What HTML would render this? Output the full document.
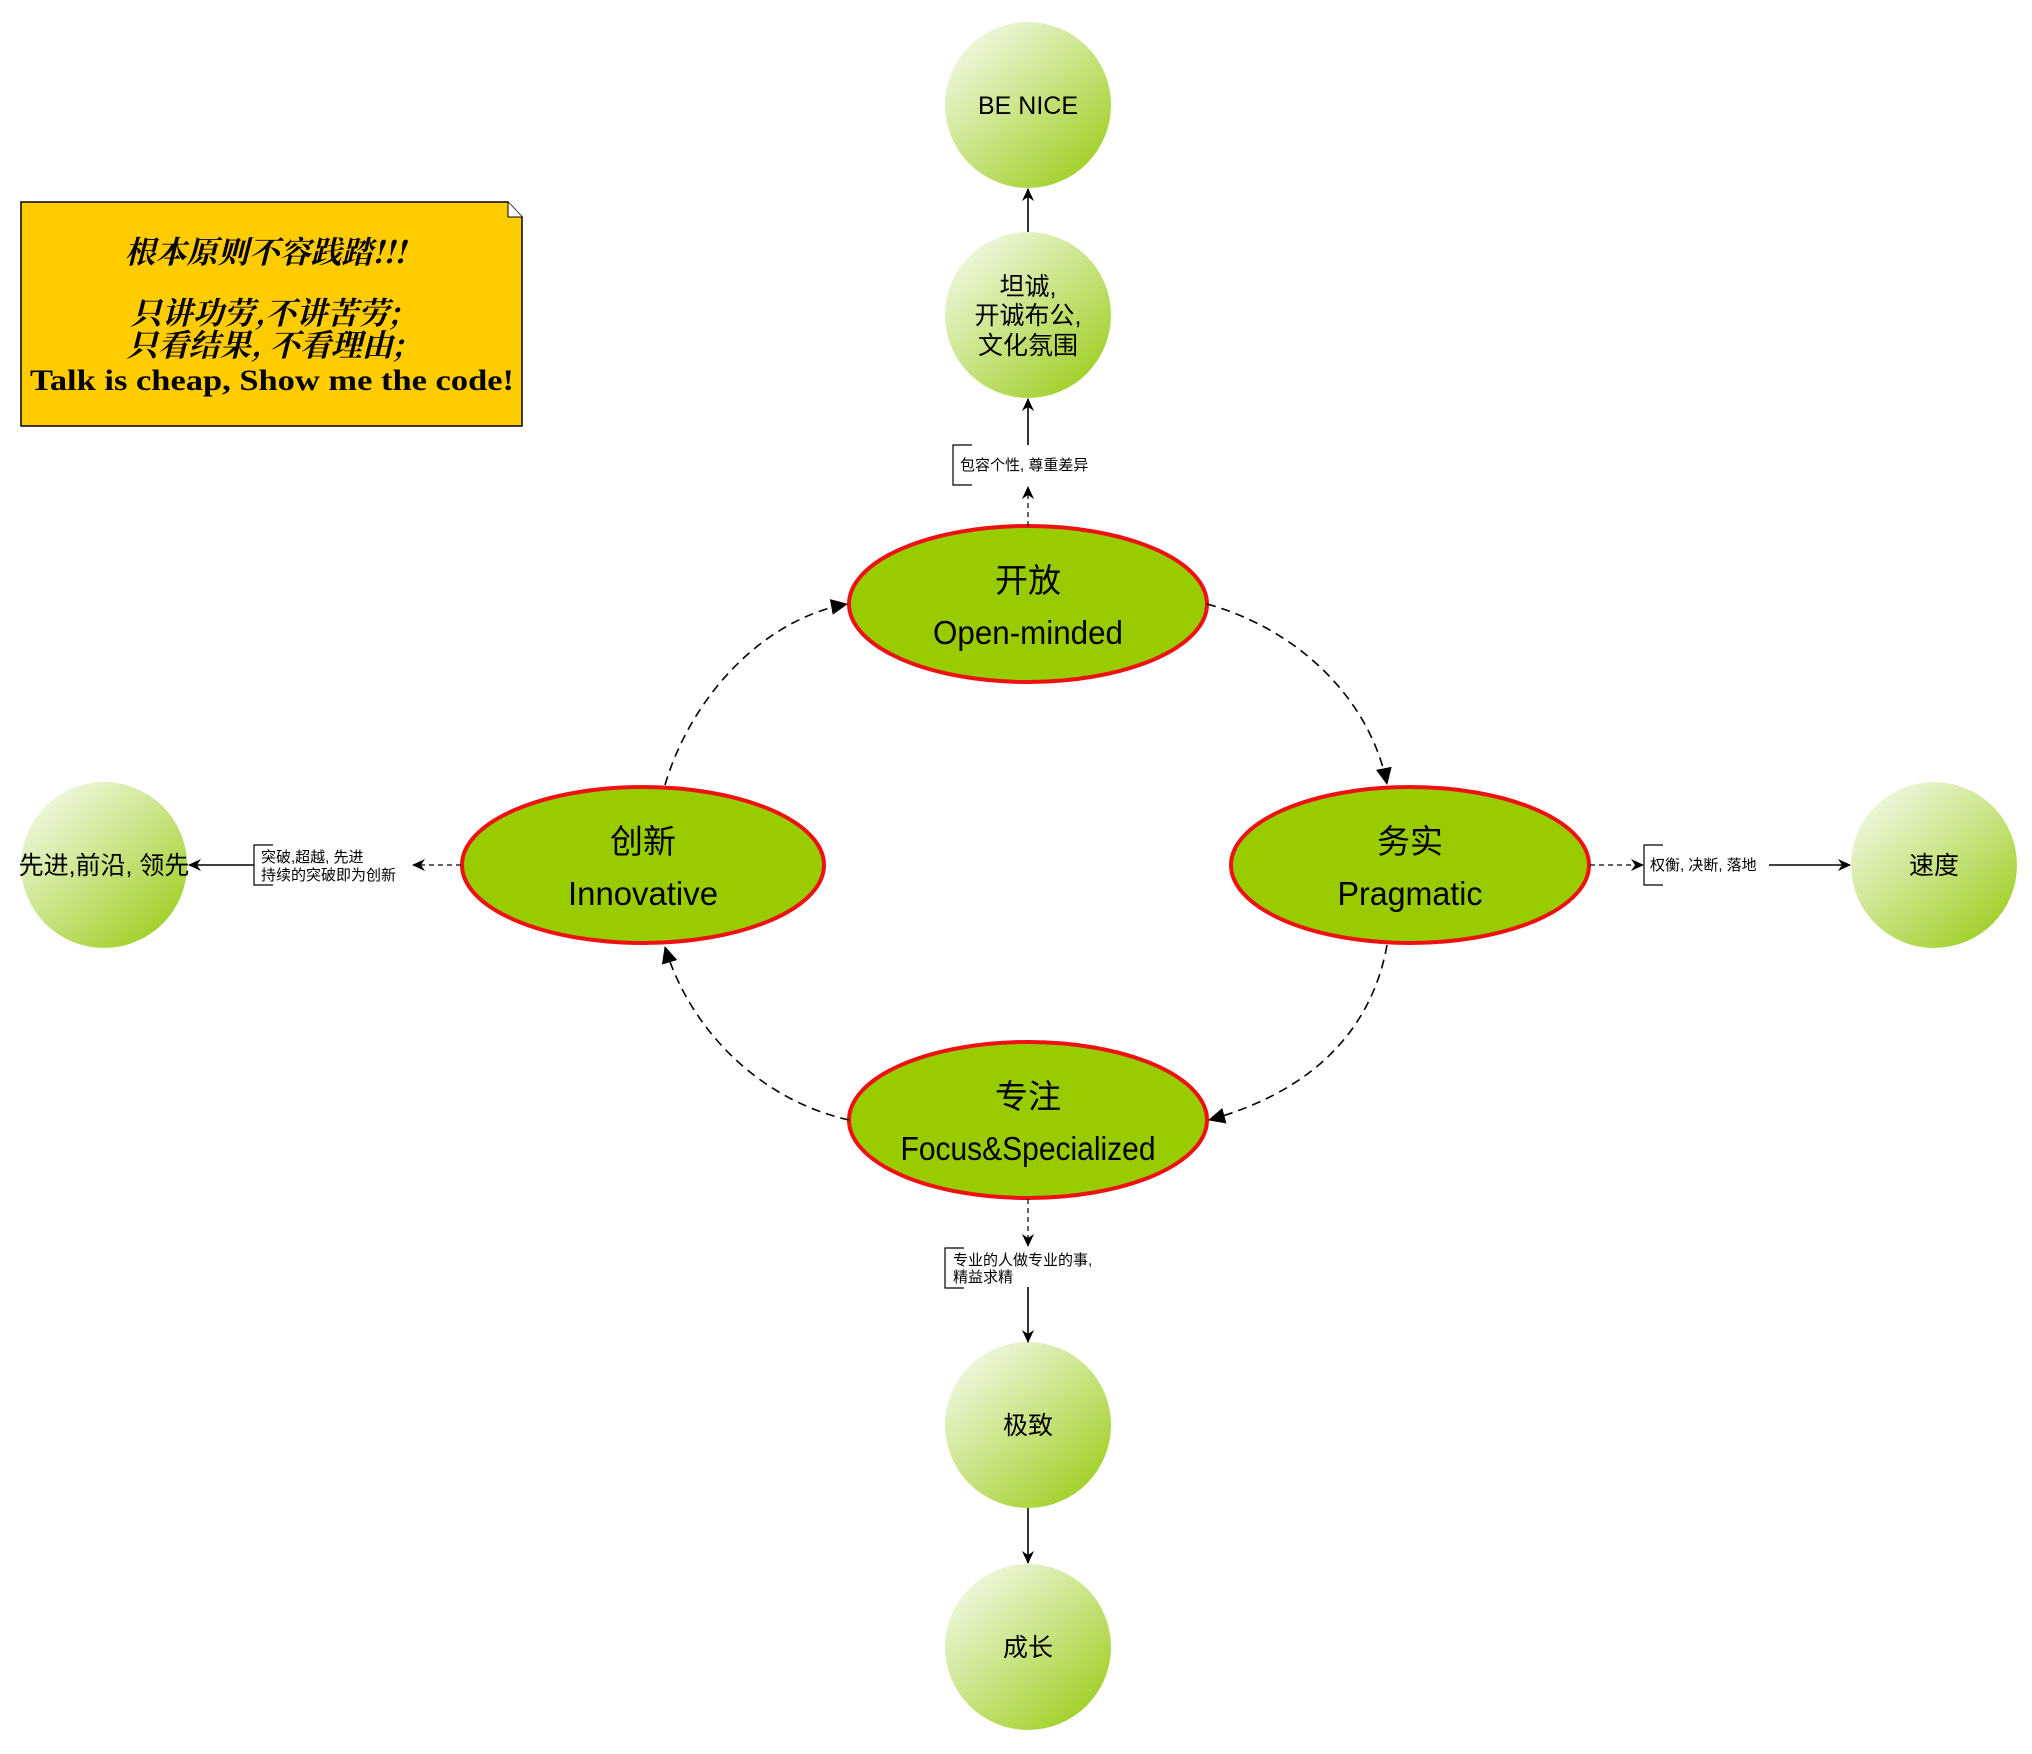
<!DOCTYPE html>
<html><head><meta charset="utf-8"><style>
html,body{margin:0;padding:0;background:#fff;}
svg{display:block;}
text{font-family:"Liberation Sans","Noto Sans CJK SC",sans-serif;}
</style></head><body>
<svg width="2032" height="1754" viewBox="0 0 2032 1754" xmlns="http://www.w3.org/2000/svg">
<defs>
<linearGradient id="g" x1="0.15" y1="0.1" x2="0.85" y2="0.9">
<stop offset="0" stop-color="#eef7dc"/><stop offset="1" stop-color="#a2d02a"/>
</linearGradient>
<marker id="a" markerWidth="14" markerHeight="12" refX="12" refY="6" orient="auto" markerUnits="userSpaceOnUse">
<path d="M0,0 L13,6 L0,12 L4,6 z" fill="#000"/>
</marker>
<marker id="b" markerWidth="18" markerHeight="16" refX="16" refY="8" orient="auto" markerUnits="userSpaceOnUse">
<path d="M0,0 L17,8 L0,16 z" fill="#000"/>
</marker>
</defs>

<!-- note -->
<path d="M21,202 L508,202 L522,217 L522,426 L21,426 Z" fill="#ffcc00" stroke="#000" stroke-width="1.5"/>
<path d="M508,202 L508,217 L522,217" fill="#fff" stroke="#000" stroke-width="1"/>
<g font-weight="bold" font-style="italic" text-anchor="middle" font-size="31">
<text x="265" y="263" style="font-family:'Noto Serif CJK SC',serif">根本原则不容践踏!!!</text>
<text x="265" y="324" style="font-family:'Noto Serif CJK SC',serif">只讲功劳,不讲苦劳;</text>
<text x="265" y="356" style="font-family:'Noto Serif CJK SC',serif">只看结果, 不看理由;</text>
</g>
<text x="272" y="390" text-anchor="middle" font-size="30" font-weight="bold" textLength="484" lengthAdjust="spacingAndGlyphs" style="font-family:'Liberation Serif',serif">Talk is cheap, Show me the code!</text>

<!-- circles -->
<g fill="url(#g)">
<circle cx="1028" cy="105" r="83"/>
<circle cx="1028" cy="315" r="83"/>
<circle cx="104" cy="865" r="83"/>
<circle cx="1934" cy="865" r="83"/>
<circle cx="1028" cy="1425" r="83"/>
<circle cx="1028" cy="1647" r="83"/>
</g>
<g font-size="25" text-anchor="middle">
<text x="1028" y="114">BE NICE</text>
<text x="1028" y="295">坦诚,</text>
<text x="1028" y="324">开诚布公,</text>
<text x="1028" y="354">文化氛围</text>
<text x="104" y="874">先进,前沿, 领先</text>
<text x="1934" y="874">速度</text>
<text x="1028" y="1434">极致</text>
<text x="1028" y="1656">成长</text>
</g>

<!-- ellipses -->
<g fill="#99cc00" stroke="#ee1111" stroke-width="4">
<ellipse cx="1028" cy="604" rx="179" ry="78"/>
<ellipse cx="643" cy="865" rx="181" ry="78"/>
<ellipse cx="1410" cy="865" rx="179" ry="78"/>
<ellipse cx="1028" cy="1120" rx="179" ry="78"/>
</g>
<g font-size="33" text-anchor="middle">
<text x="1028" y="592">开放</text><text x="1028" y="644" textLength="190" lengthAdjust="spacingAndGlyphs">Open-minded</text>
<text x="643" y="853">创新</text><text x="643" y="905" textLength="150" lengthAdjust="spacingAndGlyphs">Innovative</text>
<text x="1410" y="853">务实</text><text x="1410" y="905" textLength="145" lengthAdjust="spacingAndGlyphs">Pragmatic</text>
<text x="1028" y="1108">专注</text><text x="1028" y="1160" textLength="255" lengthAdjust="spacingAndGlyphs">Focus&amp;Specialized</text>
</g>

<!-- connectors -->
<g fill="none" stroke="#000" stroke-width="1.6">
<path d="M1207,604 C1300,630 1370,700 1387,784" stroke-dasharray="9,6" marker-end="url(#b)"/>
<path d="M1387,945 C1370,1040 1300,1095 1209,1120" stroke-dasharray="9,6" marker-end="url(#b)"/>
<path d="M849,1120 C760,1100 690,1030 665,947" stroke-dasharray="9,6" marker-end="url(#b)"/>
<path d="M665,785 C690,700 760,620 847,604" stroke-dasharray="9,6" marker-end="url(#b)"/>
<path d="M1028,526 L1028,487" stroke-dasharray="5,4" stroke-width="1.2" marker-end="url(#a)"/>
<path d="M1028,445 L1028,399" marker-end="url(#a)"/>
<path d="M1028,232 L1028,189" marker-end="url(#a)"/>
<path d="M1590,865 L1643,865" stroke-dasharray="5,4" stroke-width="1.2" marker-end="url(#a)"/>
<path d="M1769,865 L1850,865" marker-end="url(#a)"/>
<path d="M461,865 L413,865" stroke-dasharray="5,4" stroke-width="1.2" marker-end="url(#a)"/>
<path d="M254,865 L189,865" marker-end="url(#a)"/>
<path d="M1028,1199 L1028,1246" stroke-dasharray="5,4" stroke-width="1.2" marker-end="url(#a)"/>
<path d="M1028,1287 L1028,1342" marker-end="url(#a)"/>
<path d="M1028,1508 L1028,1563" marker-end="url(#a)"/>
<path d="M972,445 L953,445 L953,485 L972,485" stroke-width="1.2"/>
<path d="M1663,845 L1644,845 L1644,885 L1663,885" stroke-width="1.2"/>
<path d="M273,845 L254,845 L254,885 L273,885" stroke-width="1.2"/>
<path d="M964,1248 L945,1248 L945,1288 L964,1288" stroke-width="1.2"/>
</g>
<g font-size="15">
<text x="960" y="470">包容个性, 尊重差异</text>
<text x="1650" y="870">权衡, 决断, 落地</text>
<text x="261" y="862">突破,超越, 先进</text>
<text x="261" y="880">持续的突破即为创新</text>
<text x="953" y="1265">专业的人做专业的事,</text>
<text x="953" y="1282">精益求精</text>
</g>
</svg>
</body></html>
